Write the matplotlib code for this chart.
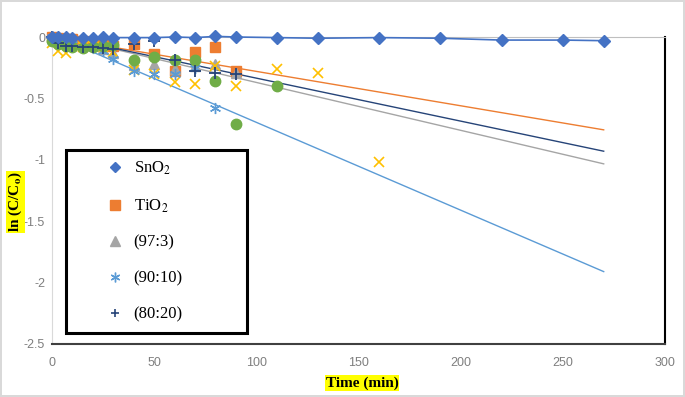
import matplotlib
matplotlib.use("Agg")
import matplotlib.pyplot as plt
import numpy as np

plt.rcParams['mathtext.fontset'] = 'stix'

# ---- data ----
t_sno2 = [0, 3, 7, 10, 15, 20, 25, 30, 40, 50, 60, 70, 80, 90, 110, 130, 160, 190, 220, 250, 270]
y_sno2 = [0, 0, 0, -0.005, -0.005, -0.005, 0, -0.005, -0.005, -0.005, 0, -0.005, 0.005, 0,
          -0.005, -0.01, -0.005, -0.01, -0.025, -0.025, -0.03]

t_main = [0, 3, 7, 10, 15, 20, 25, 30, 40, 50, 60, 70, 80, 90]
y_tio2 = [0, -0.01, -0.02, -0.02, -0.03, -0.04, -0.05, -0.07, -0.06, -0.14, -0.275, -0.12, -0.085, -0.28]
y_97_3 = [0, -0.02, -0.03, -0.04, -0.05, -0.06, -0.10, -0.13, -0.23, -0.22, -0.26, -0.24, -0.22, -0.29]
y_90_10 = [0, -0.04, -0.05, -0.06, -0.08, -0.09, -0.11, -0.18, -0.275, -0.30, -0.30, -0.25, -0.58, -0.96]
y_80_20 = [0, -0.05, -0.07, -0.07, -0.08, -0.08, -0.09, -0.10, -0.06, -0.03, -0.185, -0.28, -0.29, -0.30]

t_yellow = [0, 3, 7, 10, 15, 20, 25, 30, 40, 50, 60, 70, 80, 90, 110, 130, 160]
y_yellow = [-0.05, -0.11, -0.13, -0.07, -0.08, -0.07, -0.08, -0.12, -0.27, -0.30, -0.37, -0.38, -0.24,
            -0.40, -0.26, -0.29, -1.02]

t_green = [0, 3, 7, 10, 15, 20, 25, 30, 40, 50, 60, 70, 80, 90, 110]
y_green = [-0.03, -0.055, -0.07, -0.08, -0.09, -0.08, -0.07, -0.065, -0.19, -0.165, -0.19, -0.19,
           -0.36, -0.71, -0.40]

# linear trendlines (slope, intercept) for TiO2, 97:3, 90:10, 80:20
trend_names = ['TiO2', '97:3', '90:10', '80:20']
trend_slope = [-0.00280, -0.00390, -0.00715, -0.00350]
trend_intercept = [0.0, 0.02, 0.02, 0.015]
trend_range = [0, 270]

x_ticks = [0, 50, 100, 150, 200, 250, 300]
y_ticks = [0, -0.5, -1, -1.5, -2, -2.5]
y_tick_labels = ['0', '-0.5', '-1', '-1.5', '-2', '-2.5']

# ---- colours ----
c_sno2 = '#4472C4'
c_tio2 = '#ED7D31'
c_gray = '#A5A5A5'
c_yel = '#FFC000'
c_lb = '#5B9BD5'
c_grn = '#70AD47'
c_navy = '#264478'
trend_colors = [c_tio2, c_gray, c_lb, c_navy]

fig = plt.figure(figsize=(6.85, 3.97), dpi=100)
fig.patch.set_edgecolor('#d9d9d9')
fig.patch.set_linewidth(1.5)
ax = fig.add_axes([52/685, 1-344/397, (665-52)/685, (344-37)/397])

# trendlines
tr = np.array(trend_range, dtype=float)
for s, b, c in zip(trend_slope, trend_intercept, trend_colors):
    ax.plot(tr, s*tr + b, color=c, lw=1.0, zorder=2)

kw = dict(clip_on=False)
ax.plot(t_sno2, y_sno2, color=c_sno2, lw=1.2, marker='D', ms=6, zorder=5, **kw)
ax.plot(t_main, y_tio2, ls='none', marker='s', ms=6.5, color=c_tio2, zorder=3, **kw)
ax.plot(t_main, y_97_3, ls='none', marker='^', ms=7, color=c_gray, zorder=3, **kw)
ax.plot(t_yellow, y_yellow, ls='none', marker='x', ms=7, mew=1.2, color=c_yel, zorder=3, **kw)
ax.plot(t_main, y_90_10, ls='none', marker=(6, 2, 0), ms=8, mew=1.0, color=c_lb, zorder=3, **kw)
ax.plot(t_green, y_green, ls='none', marker='o', ms=7.5, color=c_grn, zorder=3, **kw)
ax.plot(t_main, y_80_20, ls='none', marker='+', ms=8, mew=1.3, color=c_navy, zorder=4, **kw)

ax.set_xlim(0, 300)
ax.set_ylim(-2.5, 0)
ax.set_xticks(x_ticks)
ax.set_yticks(y_ticks)
ax.set_yticklabels(y_tick_labels)
ax.tick_params(axis='both', length=0, labelsize=9, labelcolor='#7f7f7f')
ax.tick_params(axis='y', pad=5)
ax.tick_params(axis='x', pad=9)
for lab in ax.get_xticklabels() + ax.get_yticklabels():
    lab.set_family('Liberation Sans')

ax.spines['left'].set_color('#d9d9d9')
ax.spines['left'].set_linewidth(0.8)
ax.spines['top'].set_color('#bfbfbf')
ax.spines['top'].set_linewidth(0.8)
ax.spines['right'].set_color('black')
ax.spines['right'].set_linewidth(1.5)
ax.spines['bottom'].set_color('#404040')
ax.spines['bottom'].set_linewidth(1.5)

# legend
leg_handles = [
    plt.Line2D([], [], ls='none', marker='D', ms=5, color=c_sno2),
    plt.Line2D([], [], ls='none', marker='s', ms=7, color=c_tio2),
    plt.Line2D([], [], ls='none', marker='^', ms=7, color=c_gray),
    plt.Line2D([], [], ls='none', marker=(6, 2, 0), ms=7, color=c_lb),
    plt.Line2D([], [], ls='none', marker='+', ms=6, mew=1.2, color=c_navy),
]
leg_labels = ['SnO$_2$', 'TiO$_2$', '(97:3)', '(90:10)', '(80:20)']
leg = ax.legend(leg_handles, leg_labels, loc='upper left',
                bbox_to_anchor=(66/685, 1-150/397, 181/685, 0.0),
                bbox_transform=fig.transFigure, mode='expand',
                prop={'family': 'Liberation Serif', 'size': 12},
                frameon=True, fancybox=False, edgecolor='black', framealpha=1,
                borderpad=0.6, labelspacing=1.2, handlelength=4.7, handletextpad=-1.25,
                borderaxespad=0)
leg.get_frame().set_linewidth(2.2)
leg.set_zorder(10)

fig.text(15.5/685, 1-202/397, 'ln (C/C$_\\mathbf{o}$)', rotation=90, ha='center', va='center',
         family='Liberation Serif', fontsize=11, fontweight='bold',
         bbox=dict(facecolor='yellow', edgecolor='none', pad=0.5))
fig.text(362/685, 1-383/397, 'Time (min)', ha='center', va='center',
         family='Liberation Serif', fontsize=11, fontweight='bold',
         bbox=dict(facecolor='yellow', edgecolor='none', pad=0.5))

fig.savefig('out.png', dpi=100)
